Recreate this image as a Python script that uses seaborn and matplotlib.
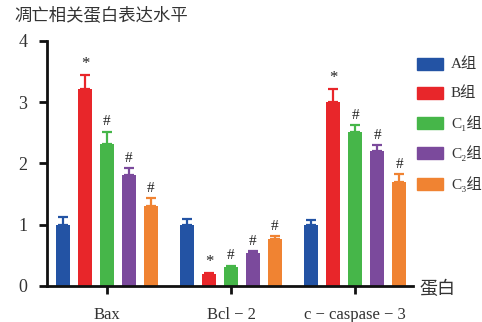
import matplotlib
matplotlib.use("Agg")
import matplotlib.pyplot as plt
import seaborn as sns
import pandas as pd
import numpy as np
from matplotlib.patches import Rectangle

proteins_disp = ["Bax", "Bcl − 2", "c − caspase − 3"]
groups = ["A组", "B组", "C₁组", "C₂组", "C₃组"]
colors = ["#2353a4", "#e8262a", "#46b649", "#7b4a9c", "#f08332"]

means = {
    "A组":  [1.00, 1.00, 1.00],
    "B组":  [3.22, 0.19, 3.00],
    "C₁组": [2.31, 0.31, 2.51],
    "C₂组": [1.81, 0.53, 2.20],
    "C₃组": [1.31, 0.77, 1.70],
}
errs = {
    "A组":  [0.12, 0.09, 0.08],
    "B组":  [0.22, 0.02, 0.22],
    "C₁组": [0.21, 0.02, 0.12],
    "C₂组": [0.12, 0.03, 0.10],
    "C₃组": [0.12, 0.04, 0.12],
}
marks = {"A组": "", "B组": "*", "C₁组": "#", "C₂组": "#", "C₃组": "#"}

rows = []
for g in groups:
    for i, p in enumerate(proteins_disp):
        rows.append({"protein": p, "group": g, "value": means[g][i], "err": errs[g][i]})
df = pd.DataFrame(rows)

sns.set_theme(style="white")
FAM = ["Liberation Serif", "DejaVu Serif", "Noto Sans CJK SC"]
plt.rcParams["font.family"] = FAM

fig = plt.figure(figsize=(4.82, 3.22), dpi=100)
ax = fig.add_axes([0.0975, 0.1127, 0.7595, 0.76])

sns.barplot(data=df, x="protein", y="value", hue="group", order=proteins_disp,
            hue_order=groups, palette=colors, width=0.887, gap=0.34,
            errorbar=None, saturation=1, legend=False, ax=ax, linewidth=0)

for gi, g in enumerate(groups):
    cont = ax.containers[gi]
    for pi, bar in enumerate(cont):
        x = bar.get_x() + bar.get_width() / 2
        h = bar.get_height()
        e = errs[g][pi]
        col = colors[gi]
        ax.errorbar([x], [h], yerr=[[0], [e]], fmt="none", ecolor=col,
                    elinewidth=1.6, capsize=3.5, capthick=1.6, zorder=3)
        m = marks[g]
        if m:
            fs = 12 if m == "*" else 11
            ax.text(x, h + e + 0.05, m, ha="center", va="bottom",
                    fontsize=fs, color="#222222", family=FAM)

ax.set_xlim(-0.484, 2.468)
ax.set_ylim(0, 4)
ax.set_yticks([0, 1, 2, 3, 4])
ax.set_xlabel("")
ax.set_ylabel("")
ax.set_xticks([0, 1, 2])
ax.set_xticklabels(proteins_disp)
for s in ["top", "right"]:
    ax.spines[s].set_visible(False)
for s in ["left", "bottom"]:
    ax.spines[s].set_linewidth(2)
    ax.spines[s].set_color("#111111")
ax.tick_params(axis="both", which="major", direction="out", length=6, width=2,
               color="#111111", labelsize=12, labelcolor="#333333",
               bottom=True, left=True)
ax.tick_params(axis="y", pad=8, labelsize=13)
ax.tick_params(axis="x", pad=9)
for lab in ax.get_xticklabels() + ax.get_yticklabels():
    lab.set_family(FAM)

fig.text(14 / 482, 1 - 15 / 322, "凋亡相关蛋白表达水平", fontsize=12.5,
         va="center", ha="left", color="#333333", family=["Noto Sans CJK SC"])
fig.text(419 / 482, 1 - 289 / 322, "蛋白", fontsize=13, va="center", ha="left",
         color="#333333", family=["Noto Sans CJK SC"])

ys = [64, 93, 123, 153, 184]
for gi, g in enumerate(groups):
    yc = 1 - ys[gi] / 322
    fig.patches.append(Rectangle((417 / 482, yc - 6 / 322), 26 / 482, 12 / 322,
                                 transform=fig.transFigure, color=colors[gi]))
    fig.text(451 / 482, yc, g, fontsize=11, va="center", ha="left",
             color="#333333", family=FAM)

fig.savefig("out.png", dpi=100)
